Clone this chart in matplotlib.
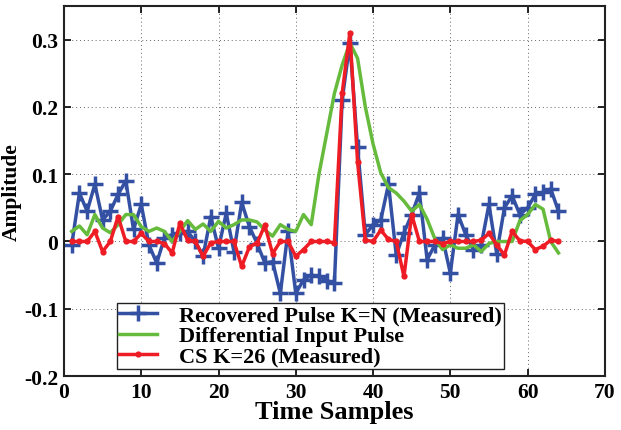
import numpy as np
import matplotlib
matplotlib.use("Agg")
import matplotlib.pyplot as plt

# sample index 1..64
samples = np.arange(1, 65)

recovered = [-0.005, 0.072, 0.045, 0.085, 0.032, 0.045, 0.07, 0.09, 0.018, 0.055,
             -0.005, -0.032, 0.005, 0.01, 0.012, 0.015, 0.0, -0.022, 0.037, -0.01,
             0.042, -0.015, 0.058, 0.022, -0.003, -0.032, -0.03, -0.077, 0.015, -0.077,
             -0.057, -0.05, -0.052, -0.058, -0.062, 0.21, 0.295, 0.14, 0.01, 0.025,
             0.032, 0.085, -0.02, 0.013, 0.04, 0.072, -0.027, -0.005, 0.005, -0.047,
             0.04, 0.01, -0.012, -0.005, 0.055, -0.018, 0.05, 0.068, 0.04, 0.05,
             0.07, 0.073, 0.078, 0.045]

diff_input = [0.015, 0.023, 0.01, 0.04, 0.02, 0.013, 0.025, 0.04, 0.04, 0.022,
              0.015, 0.02, 0.015, 0.0, 0.015, 0.031, 0.018, 0.026, 0.015, 0.03,
              0.02, 0.025, 0.032, 0.032, 0.029, 0.017, 0.008, 0.025, 0.018, 0.015,
              0.04, 0.025, 0.1, 0.16, 0.22, 0.262, 0.295, 0.272, 0.2, 0.145,
              0.102, 0.08, 0.072, 0.06, 0.045, 0.055, 0.033, 0.004, -0.012, -0.005,
              -0.01, -0.01, -0.005, -0.015, -0.003, 0.0, 0.0, 0.0, 0.031, 0.04,
              0.055, 0.048, 0.0, -0.017]

cs_k26 = [0, 0, 0, 0.015, -0.015, 0, 0.037, 0, 0, 0.012,
          0, 0, -0.003, -0.017, 0.027, 0.002, 0, -0.022, -0.002, 0,
          0, 0, -0.037, -0.008, -0.002, 0.024, -0.018, 0, 0, -0.022,
          -0.012, 0, 0, 0, -0.002, 0.22, 0.31, 0.118, 0.002, 0,
          0.017, 0.003, 0, -0.052, 0.04, 0, 0, 0, -0.003, 0,
          0, 0, 0, 0.002, 0.012, -0.005, -0.02, 0.015, 0.001, 0,
          -0.012, -0.007, 0.002, 0]

labels = ['Recovered Pulse K=N (Measured)', 'Differential Input Pulse',
          'CS K=26 (Measured)']

plt.rcParams['font.family'] = ['Liberation Serif', 'DejaVu Serif']
plt.rcParams['font.weight'] = 'bold'

fig = plt.figure(figsize=(6.21, 4.31), dpi=100)
ax = fig.add_axes([0.103, 0.125, 0.871, 0.859])

blue = '#3350a3'
green = '#66bb3c'
red = '#ee1c24'

ax.plot(samples, recovered, color=blue, lw=2.5, marker='+', ms=11, mew=2.5,
        label=labels[0])
ax.plot(samples, diff_input, color=green, lw=2.5, label=labels[1])
ax.plot(samples, cs_k26, color=red, lw=2.5, marker='o', ms=4.5, mew=0,
        label=labels[2])

ax.set_xlim(0, 70)
ax.set_ylim(-0.2, 0.35)
ax.set_xticks(np.arange(0, 71, 10))
ax.set_yticks([-0.2, -0.1, 0, 0.1, 0.2, 0.3])
ax.set_yticklabels(['-0.2', '-0.1', '0', '0.1', '0.2', '0.3'])
ax.tick_params(direction='in', top=True, right=True, length=5, width=1.2,
               labelsize=15.5, pad=4)
ax.grid(True, color='#666666', linestyle=(0, (1, 3)), linewidth=0.7)
for s in ax.spines.values():
    s.set_linewidth(1.5)
    s.set_color('#222222')

ax.set_xlabel('Time Samples', fontsize=19, fontweight='bold', labelpad=-1)
ax.set_ylabel('Amplitude', fontsize=15.5, fontweight='bold', labelpad=2)

leg = ax.legend(loc='lower left', bbox_to_anchor=(0.098, 0.019),
                fontsize=16, frameon=True, fancybox=False, framealpha=1,
                edgecolor='#222222', borderpad=0.1, labelspacing=0.0,
                handlelength=1.7, handletextpad=1.0, borderaxespad=0)
leg.get_frame().set_linewidth(1.0)

fig.savefig('out.png', dpi=100)
